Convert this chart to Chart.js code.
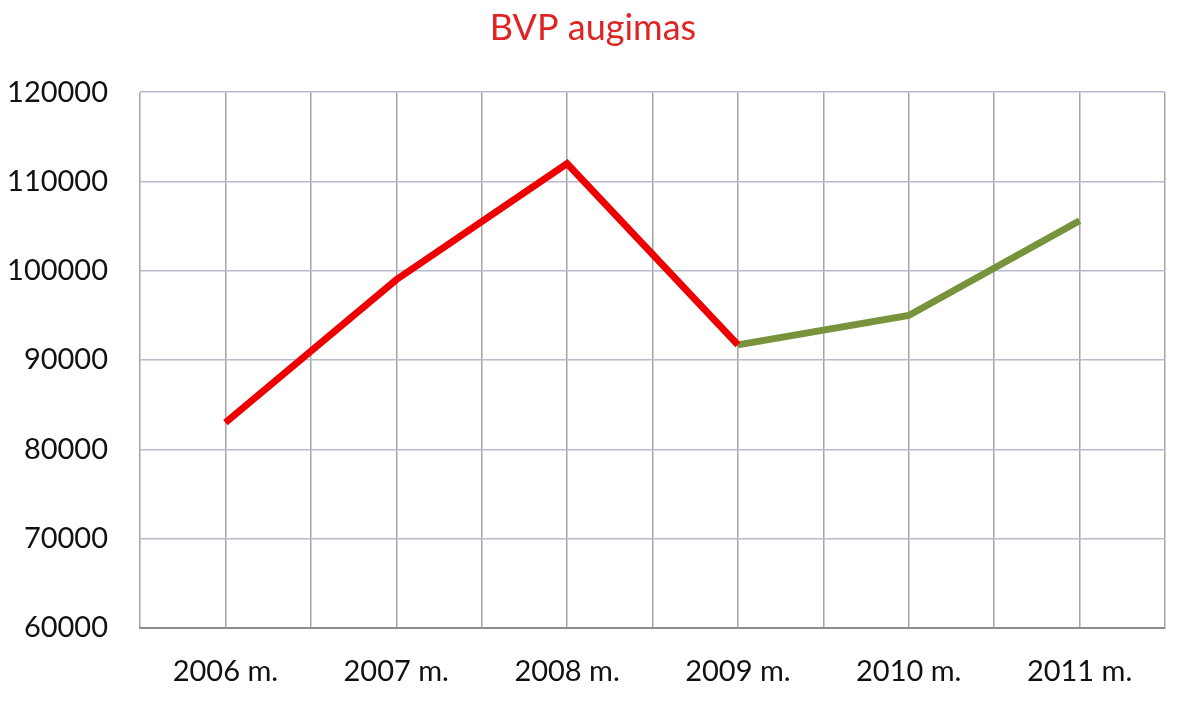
<!DOCTYPE html>
<html>
<head>
<meta charset="utf-8">
<script src="https://cdn.jsdelivr.net/npm/chart.js@4/dist/chart.umd.min.js"></script>
<style>
  html, body { margin: 0; padding: 0; background: #fff; }
  #wrap { width: 1200px; height: 711px; }
</style>
</head>
<body>
<div id="wrap"><canvas id="chart" width="1200" height="711"></canvas></div>
<script>
'use strict';

// ── Data ─────────────────────────────────────────────────────────────
const YEARS     = ['2006 m.', '2007 m.', '2008 m.', '2009 m.', '2010 m.', '2011 m.'];
const BVP       = [83000, 99000, 112000, 91700, 95000, 105600];
const GROWTH_AT = 3;   // from 2009 m. the line turns green

const FONT = 'Lato, "Open Sans", sans-serif';

const redPts   = BVP.map((y, x) => ({ x, y })).slice(0, GROWTH_AT + 1);
const greenPts = BVP.map((y, x) => ({ x, y })).slice(GROWTH_AT);

// ── Chart ────────────────────────────────────────────────────────────
new Chart(document.getElementById('chart'), {
  type: 'line',
  data: {
    datasets: [
      {
        data: redPts,
        borderColor: '#ee0000',
        borderWidth: 7,
        pointRadius: 0,
        tension: 0,
      },
      {
        data: greenPts,
        borderColor: '#77933c',
        borderWidth: 7,
        pointRadius: 0,
        tension: 0,
      },
    ],
  },
  options: {
    responsive: false,
    animation: false,
    layout: { padding: { left: 0, right: 14, top: 0, bottom: 0 } },
    plugins: {
      legend: { display: false },
      tooltip: { enabled: false },
      title: {
        display: true,
        text: 'BVP augimas',
        color: '#e02424',
        font: { family: FONT, size: 36, weight: 'normal' },
        padding: { top: 7, bottom: 42 },
      },
    },
    scales: {
      x: {
        type: 'linear',
        min: -0.5,
        max: YEARS.length - 0.5,
        afterBuildTicks: axis => {
          const ticks = [];
          for (let v = -0.5; v <= YEARS.length - 0.5; v += 0.5) ticks.push({ value: v });
          axis.ticks = ticks;
        },
        afterFit: axis => { axis.height = 83; },
        grid: { color: '#a4a4a4', lineWidth: 1.5, drawTicks: false },
        border: { color: '#8c8c8c', width: 2 },
        ticks: {
          autoSkip: false,
          maxRotation: 0,
          padding: 26,
          color: '#111',
          font: { family: FONT, size: 29 },
          callback: v => Number.isInteger(v) ? YEARS[v] : '',
        },
      },
      y: {
        min: 60000,
        max: 120000,
        afterFit: axis => { axis.width = 140; },
        grid: { color: '#b5bccb', lineWidth: 1.5, drawTicks: false },
        border: { display: false },
        ticks: {
          stepSize: 10000,
          padding: 32,
          color: '#111',
          font: { family: FONT, size: 29 },
          callback: v => String(v),
        },
      },
      // empty right gutter, keeps the title centred on the page
      gutter: {
        position: 'right',
        min: 0,
        max: 1,
        afterFit: axis => { axis.width = 21; },
        grid: { display: false },
        border: { display: false },
        ticks: { display: false },
      },
    },
  },
});
</script>
</body>
</html>
